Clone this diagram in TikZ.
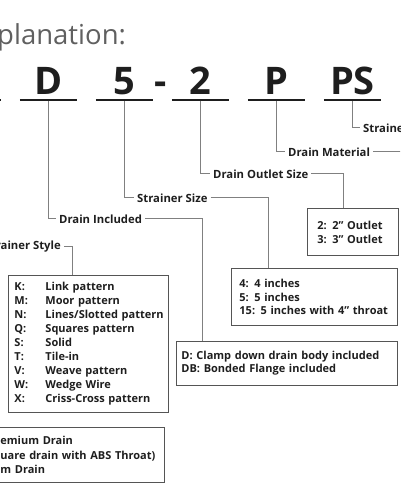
\documentclass[tikz,border=0pt]{standalone}
\usepackage{fontspec}
\setmainfont{Open Sans}
\usetikzlibrary{positioning}
\definecolor{ink}{HTML}{1E1E1E}
\definecolor{leadgray}{HTML}{808080}
\definecolor{boxgray}{HTML}{555555}
\definecolor{titlegray}{HTML}{606060}

\begin{document}
\begin{tikzpicture}[x=1pt, y=-1pt,
  code/.style={font=\bfseries\fontsize{38}{40}\selectfont, text=ink, inner sep=0pt, anchor=base, minimum width=57pt},
  lbl/.style={font=\bfseries\fontsize{11.3}{14}\selectfont, text=ink, inner xsep=3pt, inner ysep=0pt},
  keybox/.style={draw=boxgray, line width=0.9pt, anchor=north west, align=left, inner ysep=0pt,
    font=\bfseries\fontsize{11}{14}\selectfont, text=ink},
  lead/.style={draw=leadgray, line width=0.7pt},
  bar/.style={draw=ink, line width=1.8pt}]
  \useasboundingbox (0,0) rectangle (400,500);
  \clip (0,0) rectangle (400,500);

  \node[font=\fontsize{27.5}{30}\selectfont, text=titlegray, anchor=base west, inner sep=0pt] (title)
    at (-3,45) {\llap{Ex}planation:};

  \node[code] (cA) at (-27.5,95) {\phantom{D}};
  \node[code] (cD) at (48.5,95) {D};
  \node[code] (cFive) at (124.5,95) {5};
  \node[code, minimum width=0pt] (dash) at (161,95) {-};
  \node[code] (cTwo) at (200.5,95) {2};
  \node[code] (cP) at (276.5,95) {P};
  \node[code] (cPS) at (352.5,95) {PS};
  \foreach \c in {cA,cD,cFive,cTwo,cP,cPS}
    \draw[bar] ([yshift=-4.5pt]\c.south west) -- ([yshift=-4.5pt]\c.south east);

  \node[lbl, anchor=base west] (finish) at (360,132) {Strainer Finish};
  \node[lbl, anchor=base west] (material) at (285,156) {Drain Material};
  \node[lbl, anchor=base west] (outlet) at (210,178) {Drain Outlet Size};
  \node[lbl, anchor=base west] (ssize) at (134,202) {Strainer Size};
  \node[lbl, anchor=base west] (incl) at (56,223) {Drain Included};
  \node[lbl, anchor=base east] (sstyle) at (64,249) {Strainer Style};

  \node[keybox, inner xsep=10pt, text width=71pt, minimum height=47pt] (outletbox) at (307,208)
    {2: 2” Outlet\\3: 3” Outlet};
  \node[keybox, inner xsep=8pt, text width=150pt, minimum height=57pt,
    font=\bfseries\fontsize{11}{13.5}\selectfont] (sizebox) at (231,268)
    {4: 4 inches\\5: 5 inches\\\mbox{15: 5 inches with 4” throat}};
  \node[keybox, inner xsep=5pt, text width=211pt, minimum height=44pt,
    font=\bfseries\fontsize{11}{13}\selectfont] (drainbox) at (176,341)
    {\mbox{D: Clamp down drain body included}\\DB: Bonded Flange included};
  \node[keybox, inner xsep=6pt, text width=148pt, minimum height=137pt] (stylebox) at (8,275)
    {\makebox[31pt][l]{K:}Link pattern\\
     \makebox[31pt][l]{M:}Moor pattern\\
     \makebox[31pt][l]{N:}\mbox{Lines/Slotted pattern}\\
     \makebox[31pt][l]{Q:}Squares pattern\\
     \makebox[31pt][l]{S:}Solid\\
     \makebox[31pt][l]{T:}Tile-in\\
     \makebox[31pt][l]{V:}Weave pattern\\
     \makebox[31pt][l]{W:}Wedge Wire\\
     \makebox[31pt][l]{X:}\mbox{Criss-Cross pattern}};
  \node[keybox, inner xsep=0pt, text width=224pt, minimum height=55pt,
    font=\bfseries\fontsize{11}{14.5}\selectfont] (typebox) at (-60,427)
    {\hspace*{60pt}\llap{P: Pr}emium Drain\\
     \hspace*{60pt}\llap{(Sq}\mbox{uare drain with ABS Throat)}\\
     \hspace*{60pt}\llap{NP: Non-Premiu}m Drain};

  \coordinate (matend) at (410,0);
  \draw[lead] ([yshift=-5.5pt]cPS.south) |- (finish.west);
  \draw[lead] ([yshift=-5.5pt]cP.south) |- (material.west);
  \draw[lead] (material.east) -- (material.east -| matend);
  \draw[lead] ([yshift=-5.5pt]cTwo.south) |- (outlet.west);
  \draw[lead] (outlet.east) -| ([xshift=36pt]outletbox.north west);
  \draw[lead] ([yshift=-5.5pt]cFive.south) |- (ssize.west);
  \draw[lead] (ssize.east) -| ([xshift=37pt]sizebox.north west);
  \draw[lead] ([yshift=-5.5pt]cD.south) |- (incl.west);
  \draw[lead] (incl.east) -| ([xshift=26pt]drainbox.north west);
  \draw[lead] ([yshift=-5.5pt]cA.south) |- (sstyle.west);
  \draw[lead] (sstyle.east) -| ([xshift=64pt]stylebox.north west);
\end{tikzpicture}
\end{document}
